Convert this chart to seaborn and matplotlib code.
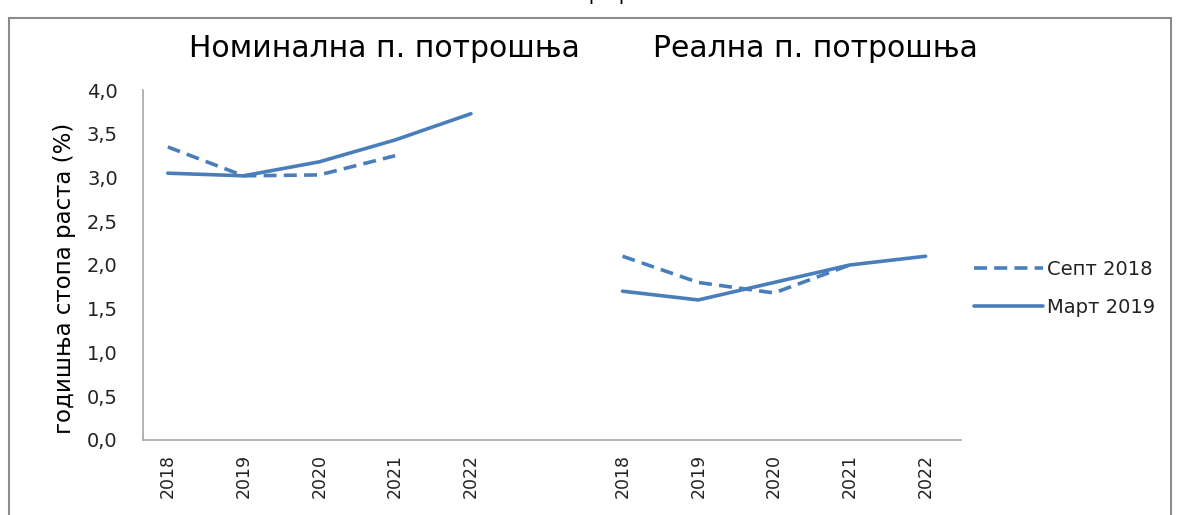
import numpy as np
import pandas as pd
import matplotlib
matplotlib.use("Agg")
import matplotlib.pyplot as plt
import seaborn as sns
from matplotlib.patches import Rectangle

# data
years = ['2018', '2019', '2020', '2021', '2022']
panels = ['Номинална п. потрошња', 'Реална п. потрошња']
series = ['Септ 2018', 'Март 2019']
nom_sept = [3.35, 3.02, 3.03, 3.25, np.nan]
nom_mart = [3.05, 3.02, 3.18, 3.43, 3.73]
real_sept = [2.10, 1.80, 1.68, 2.00, np.nan]
real_mart = [1.70, 1.60, 1.80, 2.00, 2.10]
yticks = [0.0, 0.5, 1.0, 1.5, 2.0, 2.5, 3.0, 3.5, 4.0]

values = {
    (panels[0], series[0]): nom_sept,
    (panels[0], series[1]): nom_mart,
    (panels[1], series[0]): real_sept,
    (panels[1], series[1]): real_mart,
}

rows = []
for p_i, p in enumerate(panels):
    for s in series:
        for y_i, yr in enumerate(years):
            rows.append({'panel': p, 'series': s, 'year': yr,
                         'pos': p_i * (len(years) + 1) + y_i,
                         'value': values[(p, s)][y_i]})
df = pd.DataFrame(rows).dropna()

sns.set_style('white')
plt.rcParams['font.family'] = ['DejaVu Sans']

blue = '#4a7ebb'
fig = plt.figure(figsize=(11.8, 5.15), dpi=100)
ax = fig.add_axes([0.121, 0.146, 0.693, 0.679])

sns.lineplot(data=df, x='pos', y='value', style='series', style_order=series,
             units='panel', estimator=None, color=blue, linewidth=2.6,
             dashes={series[0]: (3.6, 2.0), series[1]: ''}, ax=ax)

ax.set_ylim(0, 4)
ax.set_yticks(yticks)
ax.set_yticklabels([f'{v:.1f}'.replace('.', ',') for v in yticks], fontsize=14, color='#222222')
xt = [p_i * (len(years) + 1) + i for p_i in range(len(panels)) for i in range(len(years))]
ax.set_xticks(xt)
ax.set_xticklabels(years * len(panels), rotation=90, fontsize=12.5, color='#222222')
ax.set_xlim(-0.33, 10.46)
ax.tick_params(axis='x', length=0, pad=10)
ax.tick_params(axis='y', length=0, pad=18)
ax.set_xlabel('')
ax.set_ylabel('годишња стопа раста (%)', fontsize=16.5, color='black')
ax.yaxis.set_label_coords(-0.082, 0.463)

for side in ['top', 'right']:
    ax.spines[side].set_visible(False)
for side in ['left', 'bottom']:
    ax.spines[side].set_color('#a6a6a6')
    ax.spines[side].set_linewidth(1.2)

# panel titles
fig.text(0.326, 0.905, panels[0], fontsize=21.5, ha='center', va='center', color='black')
fig.text(0.691, 0.905, panels[1], fontsize=21.5, ha='center', va='center', color='black')

# cut-off caption at the top
fig.text(0.54, 1.01, 'Графикон 5', fontsize=14, ha='center', va='center', color='black')

ax.legend(loc='center left', bbox_to_anchor=(0.811, 0.44), bbox_transform=fig.transFigure,
          frameon=False, fontsize=14, handlelength=3.5, handletextpad=0.25, labelspacing=0.95,
          labelcolor='#222222')

# outer frame
fig.patches.append(Rectangle((0.008, -0.1), 0.984, 1.065, transform=fig.transFigure,
                             fill=False, edgecolor='#8c8c8c', linewidth=1.5))

fig.savefig('out.png', dpi=100)
